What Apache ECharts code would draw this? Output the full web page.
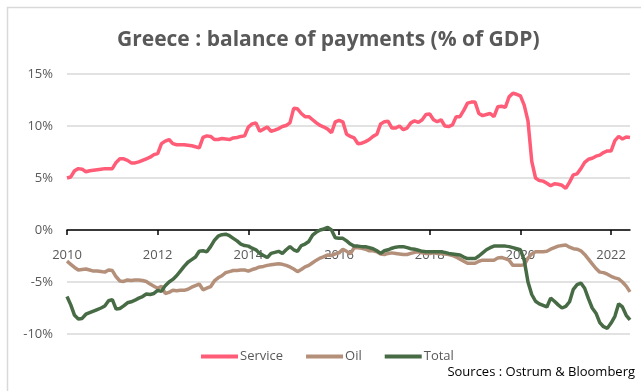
<!DOCTYPE html>
<html>
<head>
<meta charset="utf-8">
<script src="https://cdn.jsdelivr.net/npm/echarts@6/dist/echarts.min.js"></script>
<style>
html,body{margin:0;padding:0;background:#fff;}
#chart{width:641px;height:391px;}
</style>
</head>
<body>
<div id="chart"></div>
<script>
// Monthly observations, Jan 2010 .. Jun 2022
const startYear = 2010;
const monthCount = 150;
const categories = [];
for (let i = 0; i < monthCount; i++) {
  const y = startYear + Math.floor(i / 12);
  const m = (i % 12) + 1;
  categories.push(y + '-' + (m < 10 ? '0' + m : m));
}

const yTicks = [-10, -5, 0, 5, 10, 15];

const service = [
  5.0, 5.1, 5.7, 5.9, 5.85, 5.6, 5.7, 5.75, 5.8, 5.85, 5.9, 5.9,
  5.9, 6.5, 6.85, 6.85, 6.7, 6.45, 6.45, 6.55, 6.7, 6.85, 7.0, 7.25,
  7.35, 8.3, 8.55, 8.7, 8.3, 8.2, 8.2, 8.2, 8.15, 8.1, 8.0, 7.9,
  8.9, 9.05, 9.0, 8.7, 8.7, 8.8, 8.75, 8.7, 8.85, 8.9, 9.0, 9.05,
  9.9, 10.2, 10.3, 9.5, 9.7, 9.9, 9.5, 9.6, 9.75, 9.95, 10.05, 10.3,
  11.7, 11.65, 11.2, 10.9, 10.9, 10.6, 10.3, 10.05, 9.9, 9.7, 9.35, 10.4,
  10.55, 10.4, 9.2, 9.0, 8.85, 8.3, 8.35, 8.5, 8.7, 9.0, 9.2, 10.2,
  10.4, 10.45, 9.8, 9.8, 10.0, 9.65, 9.8, 10.3, 10.5, 10.35, 10.6, 11.1,
  11.15, 10.6, 10.4, 10.6, 10.0, 9.95, 10.1, 10.9, 10.9, 11.5, 12.2, 12.3,
  12.3, 11.2, 11.0, 11.1, 11.2, 10.9, 11.85, 11.9, 11.8, 12.8, 13.15, 13.05,
  12.9, 12.0, 10.5, 6.6, 5.0, 4.75, 4.7, 4.5, 4.25, 4.45, 4.4, 4.3,
  4.0, 4.6, 5.3, 5.4, 5.9, 6.5, 6.8, 6.9, 7.1, 7.2, 7.45, 7.6,
  7.6, 8.6, 9.0, 8.75, 8.95, 8.9
];

const oil = [
  -3.0, -3.3, -3.6, -3.85, -3.8, -3.75, -3.85, -3.95, -3.95, -4.0, -4.05, -3.85,
  -3.9, -4.5, -4.9, -4.95, -4.8, -4.85, -4.8, -4.8, -4.85, -4.95, -5.2, -5.4,
  -5.6, -5.4, -6.1, -6.0, -5.8, -5.85, -5.8, -5.8, -5.7, -5.5, -5.35, -5.2,
  -5.75, -5.6, -5.45, -4.9, -4.6, -4.4, -4.1, -4.0, -3.9, -3.9, -3.85, -3.85,
  -3.95, -3.8, -3.7, -3.55, -3.5, -3.4, -3.35, -3.3, -3.25, -3.3, -3.4, -3.55,
  -3.75, -4.0, -3.8, -3.55, -3.4, -3.15, -2.9, -2.7, -2.55, -2.4, -2.45, -2.3,
  -2.2, -1.85, -2.05, -2.3, -1.7, -1.7, -1.75, -1.85, -2.0, -2.0, -2.1, -2.3,
  -2.35, -2.25, -2.2, -2.25, -2.3, -2.35, -2.35, -2.25, -2.15, -2.1, -2.2, -2.25,
  -2.25, -2.2, -2.25, -2.25, -2.3, -2.35, -2.45, -2.6, -2.8, -3.0, -3.2, -3.2,
  -3.2, -3.0, -2.9, -2.9, -2.9, -2.9, -2.7, -2.65, -2.75, -2.9, -3.4, -3.4,
  -3.4, -3.35, -2.7, -2.3, -2.1, -2.1, -2.1, -2.05, -1.85, -1.7, -1.55, -1.5,
  -1.45, -1.65, -1.8, -1.85, -2.0, -2.35, -2.8, -3.25, -3.7, -4.05, -4.1, -4.25,
  -4.45, -4.6, -4.7, -5.0, -5.4, -5.95
];

const total = [
  -6.4, -7.2, -8.2, -8.55, -8.5, -8.1, -7.95, -7.8, -7.65, -7.5, -7.3, -6.8,
  -6.7, -7.6, -7.55, -7.3, -7.0, -6.9, -6.75, -6.55, -6.4, -6.15, -6.2, -6.1,
  -5.8, -5.9, -5.35, -5.0, -4.75, -4.4, -3.95, -3.5, -3.1, -2.85, -2.6, -2.05,
  -2.0, -2.1, -1.6, -1.0, -0.6, -0.45, -0.4, -0.55, -0.8, -1.05, -1.35, -1.5,
  -1.55, -1.75, -1.9, -2.25, -2.45, -2.65, -2.25, -2.15, -2.05, -2.25, -1.9, -1.6,
  -1.9, -2.05, -1.5, -1.35, -1.1, -0.5, -0.2, 0.0, 0.1, 0.25, 0.0, -0.75,
  -0.8, -0.8, -1.05, -1.35, -1.55, -1.55, -1.6, -1.6, -1.7, -1.8, -2.0, -2.25,
  -2.0, -1.9, -1.75, -1.65, -1.6, -1.6, -1.7, -1.8, -1.85, -1.95, -2.05, -2.1,
  -2.1, -2.1, -2.1, -2.1, -2.15, -2.25, -2.3, -2.35, -2.4, -2.6, -2.75, -2.75,
  -2.75, -2.5, -2.2, -1.9, -1.7, -1.55, -1.55, -1.55, -1.55, -1.6, -1.7, -1.8,
  -1.9, -2.9, -5.0, -6.2, -6.85, -7.1, -7.25, -7.4, -6.55, -6.85, -7.2, -7.5,
  -7.35, -6.9, -5.7, -5.25, -5.1, -5.6, -6.6, -7.5, -8.0, -8.9, -9.3, -9.45,
  -8.95, -8.3, -7.1, -7.4, -8.2, -8.65
];

const seriesNames = ['Service', 'Oil', 'Total'];
const seriesColors = ['#ff5c77', '#b4907a', '#476b44'];
const seriesData = [service, oil, total];

const chart = echarts.init(document.getElementById('chart'), null, {renderer: 'canvas'});
const font = '"Open Sans", "Liberation Sans", sans-serif';

const gridTop = 74, gridBottom = 57, chartH = 391;
const plotH = chartH - gridTop - gridBottom;
const yMin = yTicks[0], yMax = yTicks[yTicks.length - 1];
// shift the category axis up so that it sits on the 0% line
const zeroOffset = -plotH * (0 - yMin) / (yMax - yMin);

chart.setOption({
  animation: false,
  backgroundColor: '#ffffff',
  textStyle: {fontFamily: font},
  graphic: [
    {type: 'rect', shape: {x: 7.5, y: 7.5, width: 700, height: 500}, style: {fill: 'none', stroke: '#d9d9d9', lineWidth: 1.5}, silent: true},
    {type: 'text', right: 6, top: 366, style: {text: 'Sources : Ostrum & Bloomberg', fill: '#000000', font: '13px ' + font}}
  ],
  title: {
    text: 'Greece : balance of payments (% of GDP)',
    left: 112,
    top: 25,
    textStyle: {color: '#595959', fontWeight: 'bold', fontSize: 21, fontFamily: font}
  },
  legend: {
    data: seriesNames,
    left: 196,
    top: 345,
    itemWidth: 37,
    itemHeight: 4,
    itemGap: 23,
    icon: 'rect',
    textStyle: {color: '#595959', fontSize: 13, fontFamily: font, padding: [0, 0, 0, -3]}
  },
  grid: {left: 67, right: 11, top: gridTop, bottom: gridBottom, containLabel: false},
  xAxis: {
    type: 'category',
    data: categories,
    boundaryGap: false,
    position: 'bottom',
    offset: zeroOffset,
    axisLine: {onZero: false, lineStyle: {color: '#000000', width: 1.5}},
    axisTick: {show: true, length: 5, interval: function (i) { return i % 24 === 0; }, lineStyle: {color: '#000000', width: 1.5}},
    axisLabel: {
      interval: function (i) { return i % 24 === 0; },
      formatter: function (v) { return v.slice(0, 4); },
      color: '#595959', fontSize: 13, margin: 19, fontFamily: font
    },
    splitLine: {show: false}
  },
  yAxis: {
    type: 'value',
    min: yMin,
    max: yMax,
    interval: 5,
    axisLine: {show: false},
    axisTick: {show: false},
    axisLabel: {formatter: '{value}%', color: '#595959', fontSize: 13, margin: 14, fontFamily: font},
    splitLine: {lineStyle: {color: '#d9d9d9', width: 1.5}}
  },
  series: seriesNames.map(function (n, k) {
    return {
      name: n,
      type: 'line',
      data: seriesData[k],
      showSymbol: false,
      symbol: 'none',
      z: 3,
      lineStyle: {color: seriesColors[k], width: 3.5},
      itemStyle: {color: seriesColors[k]}
    };
  })
});
</script>
</body>
</html>
